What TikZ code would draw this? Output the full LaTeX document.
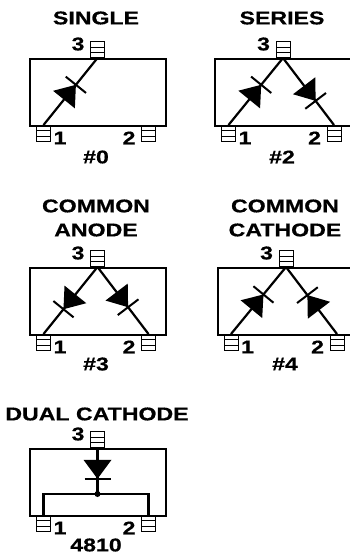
\documentclass[tikz,border=0pt]{standalone}
\usepackage{fontspec}
\setmainfont{Liberation Sans}[BoldFeatures={FakeBold=0.5}]
\usetikzlibrary{decorations.markings}
\tikzset{
    pkgbox/.style={rectangle, draw, line width=2.3pt, minimum width=136pt, minimum height=67pt, inner sep=0pt, anchor=north west},
    pinbox/.style={rectangle, draw, fill=white, line width=0.8pt, minimum width=14pt, minimum height=16pt, inner sep=0pt,
        path picture={
            \draw[line width=0.7pt] ([yshift=5.3pt]path picture bounding box.south west) -- ([yshift=5.3pt]path picture bounding box.south east);
            \draw[line width=0.7pt] ([yshift=-5.3pt]path picture bounding box.north west) -- ([yshift=-5.3pt]path picture bounding box.north east);
        }},
    wire/.style={line width=2.2pt},
    diode/.style={wire, postaction={decorate}, decoration={markings, mark=at position #1 with {
        \fill (-19pt,-14pt) -- (-19pt,14pt) -- (0pt,0pt) -- cycle;
        \draw[line width=2pt] (0pt,-13pt) -- (0pt,13pt);
    }}},
    lbl/.style={font=\bfseries\fontsize{18.5}{24}\selectfont, xscale=1.25, transform shape, inner sep=0pt, align=center},
}
\begin{document}
\begin{tikzpicture}[x=1pt, y=-1pt]
    \useasboundingbox (0,0) rectangle (350,557);

    % Packages: name / box left / box top / pin 1 / pin 2 / pin 3
    \foreach \pkg/\bx/\by/\ax/\cx/\tx in {0/29/58/43.5/148.5/97.5, 2/214/58/228.5/334/283, 3/29/267/43.5/148.5/97.5, 4/217/267/231/337/286, d/29/448/43.5/148.5/97.5} {
        \node[pinbox, anchor=south] (pintop\pkg) at (\tx,\by) {};
        \node[pinbox, anchor=north] (pinone\pkg) at (\ax,\by+67) {};
        \node[pinbox, anchor=north] (pintwo\pkg) at (\cx,\by+67) {};
        \node[pkgbox] (box\pkg) at (\bx,\by) {};
        \node[lbl] (numtop\pkg) at (\tx-19.5,\by-14) {3};
        \node[lbl] (numone\pkg) at (\ax+16.5,\by+80) {1};
        \node[lbl] (numtwo\pkg) at (\cx-19.5,\by+80) {2};
    }

    % Titles
    \node[lbl] (title0) at (96,18) {SINGLE};
    \node[lbl] (title2) at (282,18) {SERIES};
    \node[lbl] (title3) at (96,218) {COMMON\\ANODE};
    \node[lbl] (title4) at (285,218) {COMMON\\CATHODE};
    \node[lbl] (titled) at (97,414) {DUAL CATHODE};

    % Part numbers
    \node[lbl] (part0) at (96,157) {\#0};
    \node[lbl] (part2) at (282,157) {\#2};
    \node[lbl] (part3) at (96,364) {\#3};
    \node[lbl] (part4) at (285,364) {\#4};
    \node[lbl] (partd) at (96,545) {4810};

    % Diodes
    \draw[diode=0.6] (pinone0.north) -- (pintop0.south);

    \draw[diode=0.6] (pinone2.north) -- (pintop2.south);
    \draw[diode=0.64] (pintop2.south) -- (pintwo2.north);

    \draw[diode=0.63] (pintop3.south) -- (pinone3.north);
    \draw[diode=0.6] (pintop3.south) -- (pintwo3.north);

    \draw[diode=0.59] (pinone4.north) -- (pintop4.south);
    \draw[diode=0.58] (pintwo4.north) -- (pintop4.south);

    % Dual cathode
    \node[circle, fill, inner sep=0pt, minimum size=6pt] (dotd) at (97.5,494) {};
    \draw[diode=0.67] (pintopd.south) -- (dotd.center);
    \draw[wire] (pinoned.north) |- (dotd.center) -| (pintwod.north);
\end{tikzpicture}
\end{document}
